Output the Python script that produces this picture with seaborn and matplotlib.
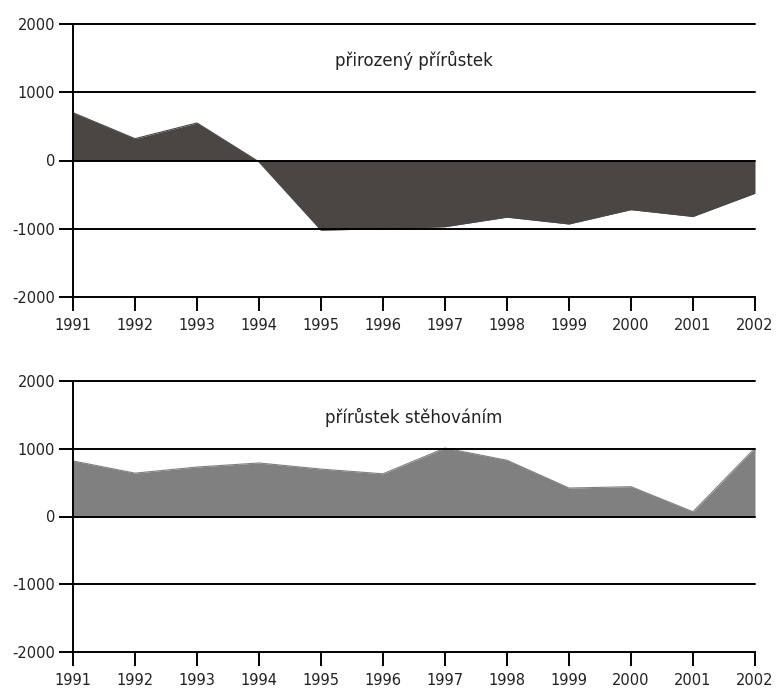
import matplotlib
matplotlib.use("Agg")
import matplotlib.pyplot as plt
import seaborn as sns
import pandas as pd

years = [1991, 1992, 1993, 1994, 1995, 1996, 1997, 1998, 1999, 2000, 2001, 2002]
natural = [700, 320, 550, -20, -1020, -1000, -970, -830, -930, -720, -820, -480]
migration = [820, 640, 730, 790, 700, 630, 1010, 830, 420, 440, 70, 1010]
titles = ["přirozený přírůstek", "přírůstek stěhováním"]
colors = ["#4a4644", "#808080"]
yticks = [-2000, -1000, 0, 1000, 2000]

sns.set_style("white")
plt.rcParams['font.family'] = ['DejaVu Sans']

fig = plt.figure(figsize=(7.76, 6.91), dpi=100)
ax1 = fig.add_axes([73/776, 1-297/691, (755-73)/776, (297-24)/691])
ax2 = fig.add_axes([73/776, 1-652/691, (755-73)/776, (652-381)/691])

for ax, vals, title, col in zip([ax1, ax2], [natural, migration], titles, colors):
    df = pd.DataFrame({"year": years, "value": vals})
    ax.fill_between(df["year"], df["value"], 0, color=col, linewidth=0, zorder=1)
    sns.lineplot(data=df, x="year", y="value", ax=ax, color=col, linewidth=0.8, zorder=1)
    ax.set_xlim(years[0], years[-1])
    ax.set_ylim(-2000, 2000)
    ax.set_xticks(years)
    ax.set_xticklabels([str(y) for y in years])
    ax.set_yticks(yticks)
    ax.set_yticklabels([str(v) for v in yticks])
    ax.set_xlabel("")
    ax.set_ylabel("")
    for v in yticks[1:]:
        ax.axhline(v, color="black", linewidth=1.4, zorder=3, clip_on=False)
    for s in ["top", "right"]:
        ax.spines[s].set_visible(False)
    for s in ["left", "bottom"]:
        ax.spines[s].set_color("black")
        ax.spines[s].set_linewidth(1.4)
        ax.spines[s].set_zorder(4)
    ax.tick_params(axis="both", direction="out", length=10, width=1.4, color="black",
                   labelsize=10.5, labelcolor="#222222", left=True, bottom=True)
    ax.tick_params(axis="x", pad=5)
    ax.tick_params(axis="y", pad=3)
    ax.text(0.5, 0.865, title, transform=ax.transAxes, ha="center", va="center",
            fontsize=12, color="#222222")

fig.savefig("out.png", dpi=100)
